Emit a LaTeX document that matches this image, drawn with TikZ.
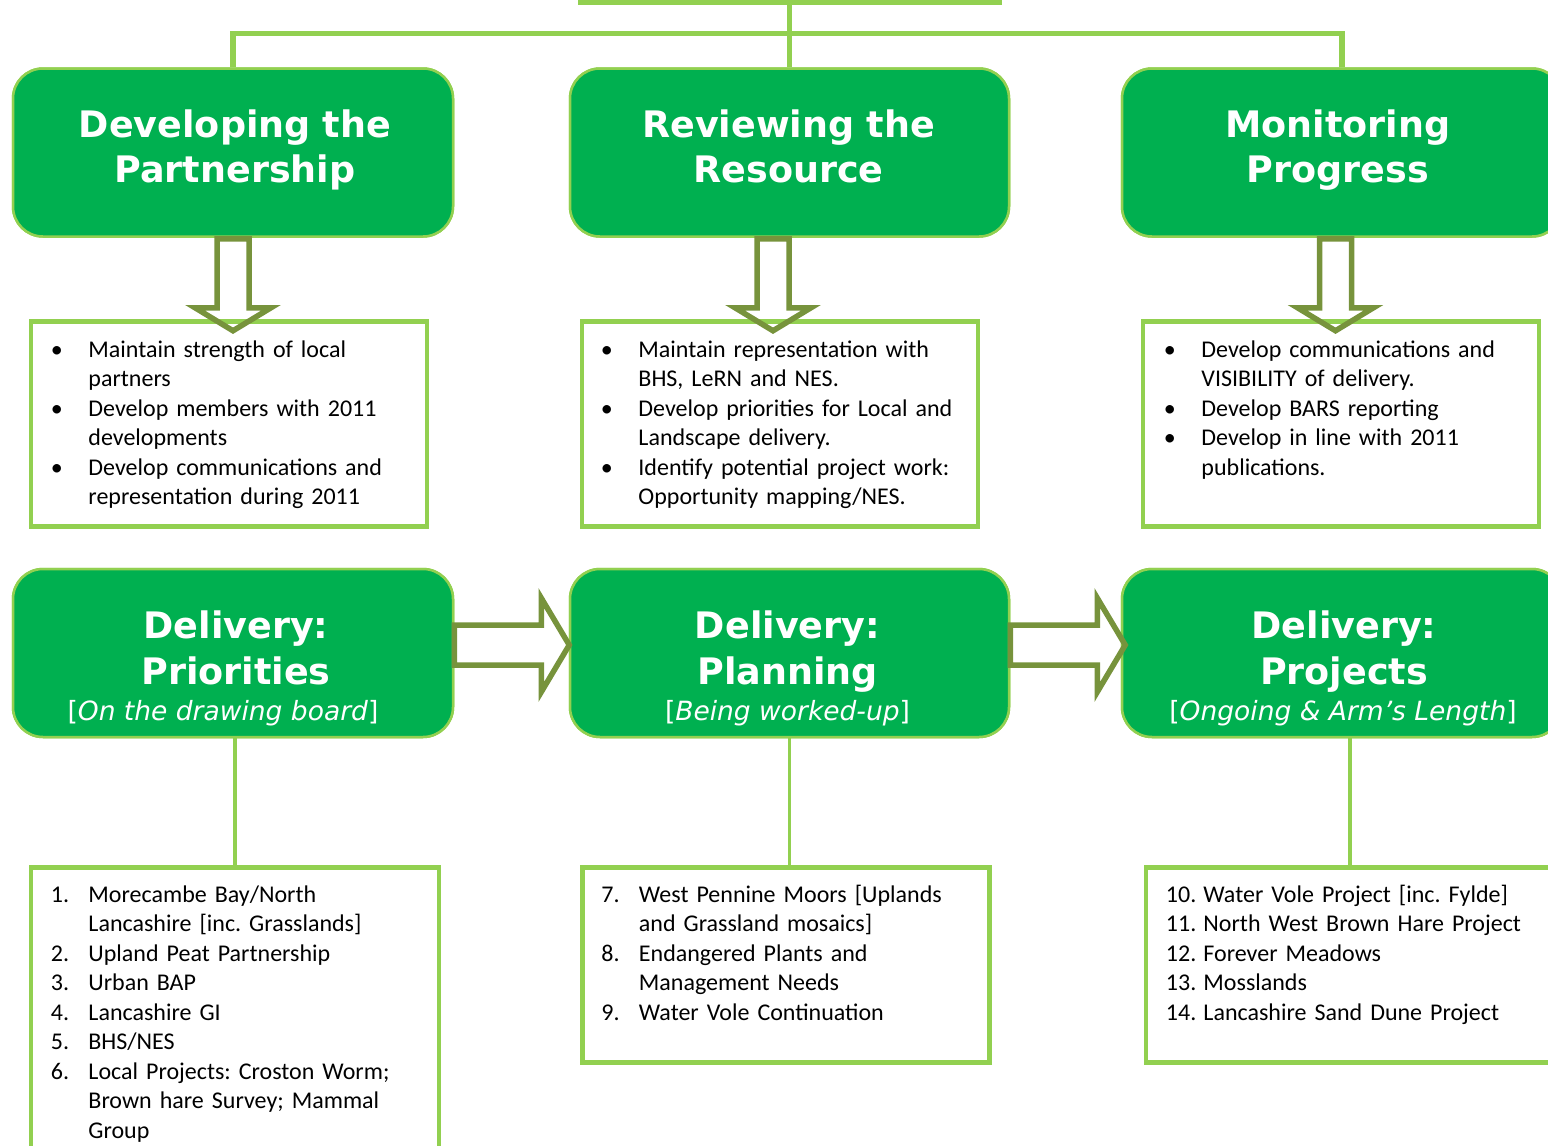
\documentclass[tikz,border=0pt]{standalone}
\usepackage{fontspec}
\setmainfont{Carlito}
\newfontfamily\headfont{DejaVu Sans Bold}
\newfontfamily\subfont{DejaVu Sans}[ItalicFont={DejaVu Sans Oblique}]
\usetikzlibrary{calc}
\definecolor{boxgreen}{HTML}{00B050}
\definecolor{linegreen}{HTML}{92D050}
\definecolor{olivegreen}{HTML}{77933C}
\newcommand{\litem}[2]{\hangindent=37.5pt\hangafter=1\noindent\makebox[37.5pt][l]{#1}#2\par}
\begin{document}
\begin{tikzpicture}[x=1pt,y=-1pt,
  hbox/.style={draw=linegreen, line width=2.5, fill=boxgreen, rounded corners=30, minimum width=440, minimum height=168, inner sep=0},
  tbox/.style={draw=linegreen, line width=4.5, inner sep=0},
  conn/.style={draw=linegreen, line width=5.5},
  conn2/.style={draw=linegreen, line width=3.5},
  barrow/.style={draw=olivegreen, line width=5.5, line join=miter},
  htext/.style={anchor=base, text width=440, align=center, inner sep=0, text=white, font=\headfont\fontsize{36.5}{45.5}\selectfont},
  stext/.style={anchor=base, inner sep=0, text=white, font=\subfont\fontsize{26.5}{30}\selectfont},
  ltext/.style={anchor=base west, text width=390, inner sep=0, align=left, font=\fontsize{24}{29.5}\selectfont\frenchspacing}]
\path[use as bounding box] (0,0) rectangle (1548,1146);
\clip (0,0) rectangle (1548,1146);

% root box (only bottom edge visible)
\node[tbox, line width=5, minimum width=419, minimum height=150] (root) at (789.5,-73) {};

% heading boxes
\node[hbox] (dev) at (233,152.5) {};
\node[hbox, minimum width=439] (rev) at (789.5,152.5) {};
\node[hbox] (mon) at (1342,152.5) {};
\node[hbox] (pri) at (233,653) {};
\node[hbox, minimum width=439] (pla) at (789.5,653) {};
\node[hbox] (pro) at (1342,653) {};

% text boxes
\node[tbox, minimum width=396, minimum height=205] (bA) at (229,424) {};
\node[tbox, minimum width=396, minimum height=205] (bB) at (780,424) {};
\node[tbox, minimum width=396, minimum height=205] (bC) at (1341,424) {};
\node[tbox, minimum width=408, minimum height=332.5] (lA) at (235,1033.75) {};
\node[tbox, minimum width=407, minimum height=195] (lB) at (786,965) {};
\node[tbox, minimum width=408, minimum height=195] (lC) at (1350,965) {};

% connectors
\draw[conn] (root.south) -- (rev.north);
\draw[conn] (dev.north) -- ++(0,-34) -| (mon.north);
\draw[conn2] (lA.north) -- (lA.north |- pri.south);
\draw[conn2] (pla.south) -- (pla.south |- lB.north);
\draw[conn2] (lC.north) -- (lC.north |- pro.south);

% redraw boxes over connectors
\node[hbox] at (dev) {};
\node[hbox, minimum width=439] at (rev) {};
\node[hbox] at (mon) {};
\node[hbox] at (pri) {};
\node[hbox, minimum width=439] at (pla) {};
\node[hbox] at (pro) {};

% down block arrows
\draw[barrow] (dev.south) ++(-16,1) -- ++(0,69) -- ++(-22,0) -- ++(38,23) -- ++(38,-23) -- ++(-22,0) -- ++(0,-69) -- cycle;
\draw[barrow] ($(rev.south)+(-16.5,0)$) ++(-16,1) -- ++(0,69) -- ++(-22,0) -- ++(38,23) -- ++(38,-23) -- ++(-22,0) -- ++(0,-69) -- cycle;
\draw[barrow] ($(mon.south)+(-6.5,0)$) ++(-16,1) -- ++(0,69) -- ++(-22,0) -- ++(38,23) -- ++(38,-23) -- ++(-22,0) -- ++(0,-69) -- cycle;

% right block arrows
\draw[barrow] (pri.east) ++(0,-28) -- ++(87,0) -- ++(0,-27) -- ++(28,47) -- ++(-28,47) -- ++(0,-27) -- ++(-87,0) -- cycle;
\draw[barrow] (pla.east) ++(0,-28) -- ++(87,0) -- ++(0,-27) -- ++(28,47) -- ++(-28,47) -- ++(0,-27) -- ++(-87,0) -- cycle;

% heading texts
\node[htext] (tdev) at ($(dev.north)+(2,70)$) {Developing the\\Partnership};
\node[htext] (trev) at ($(rev.north)+(-1,70)$) {Reviewing the\\Resource};
\node[htext] (tmon) at ($(mon.north)+(-4,70)$) {Monitoring\\Progress};
\node[htext] (tpri) at ($(pri.north)+(3,71)$) {Delivery:\\Priorities};
\node[htext] (tpla) at ($(pla.north)+(-2,71)$) {Delivery:\\Planning};
\node[htext] (tpro) at ($(pro.north)+(2,71)$) {Delivery:\\Projects};
\node[stext] (spri) at ($(pri.north)+(-10,153)$) {[\textit{On the drawing board}]};
\node[stext] (spla) at ($(pla.north)+(-2,153)$) {[\textit{Being worked-up}]};
\node[stext] (spro) at ($(pro.north)+(1,153)$) {[\textit{Ongoing \& Arm’s Length}]};

% bullet texts
\node[ltext] (xA) at ($(bA.north west)+(22,38)$) {%
\litem{\textbullet}{Maintain strength of local\newline partners}%
\litem{\textbullet}{Develop members with 2011\newline developments}%
\litem{\textbullet}{Develop communications and\newline representation during 2011}};
\node[ltext] (xB) at ($(bB.north west)+(21,38)$) {%
\litem{\textbullet}{Maintain representation with\newline BHS, LeRN and NES.}%
\litem{\textbullet}{Develop priorities for Local and\newline Landscape delivery.}%
\litem{\textbullet}{Identify potential project work:\newline Opportunity mapping/NES.}};
\node[ltext] (xC) at ($(bC.north west)+(23,38)$) {%
\litem{\textbullet}{Develop communications and\newline VISIBILITY of delivery.}%
\litem{\textbullet}{Develop BARS reporting}%
\litem{\textbullet}{Develop in line with 2011\newline publications.}};

% numbered lists
\node[ltext] (yA) at ($(lA.north west)+(22,37)$) {%
\litem{1.}{Morecambe Bay/North\newline Lancashire [inc. Grasslands]}%
\litem{2.}{Upland Peat Partnership}%
\litem{3.}{Urban BAP}%
\litem{4.}{Lancashire GI}%
\litem{5.}{BHS/NES}%
\litem{6.}{Local Projects: Croston Worm;\newline Brown hare Survey; Mammal\newline Group}};
\node[ltext] (yB) at ($(lB.north west)+(21,37)$) {%
\litem{7.}{West Pennine Moors [Uplands\newline and Grassland mosaics]}%
\litem{8.}{Endangered Plants and\newline Management Needs}%
\litem{9.}{Water Vole Continuation}};
\node[ltext] (yC) at ($(lC.north west)+(22,37)$) {%
\litem{10.}{Water Vole Project [inc. Fylde]}%
\litem{11.}{North West Brown Hare Project}%
\litem{12.}{Forever Meadows}%
\litem{13.}{Mosslands}%
\litem{14.}{Lancashire Sand Dune Project}};
\end{tikzpicture}
\end{document}
